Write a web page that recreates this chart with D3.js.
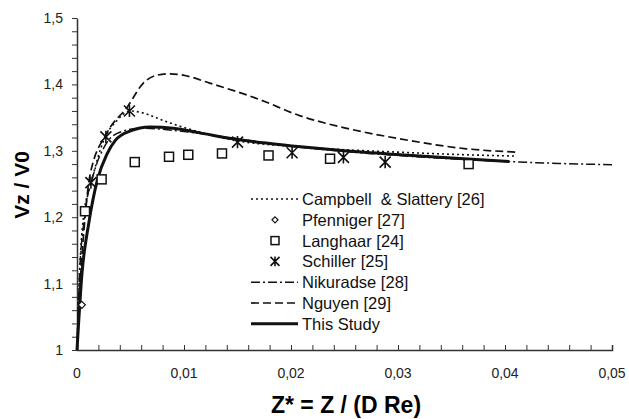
<!DOCTYPE html>
<html><head><meta charset="utf-8">
<script src="https://cdn.jsdelivr.net/npm/d3@7"></script>
<style>body{margin:0;background:#fff}svg{display:block}text{font-family:Arial,"Liberation Sans",sans-serif;white-space:pre}</style>
</head><body>
<script>
const W=629,H=419;
const xTicks=[0,0.01,0.02,0.03,0.04,0.05];
const yTicks=[1,1.1,1.2,1.3,1.4,1.5];
const thisStudy=[[0,1],[0.00047,1.116],[0.0011,1.191],[0.0019,1.256],[0.0028,1.295],[0.0036,1.316],[0.005,1.330],[0.0068,1.336],[0.009,1.334],[0.0115,1.327],[0.0146,1.318],[0.018,1.311],[0.0209,1.306],[0.025,1.300],[0.0302,1.294],[0.035,1.289],[0.0404,1.284]];
const campbell=[[0,1],[0.0002,1.1],[0.0006,1.2],[0.0013,1.25],[0.0025,1.316],[0.0037,1.345],[0.005,1.36],[0.0059,1.358],[0.0085,1.343],[0.0115,1.328],[0.0146,1.316],[0.0208,1.306],[0.030,1.298],[0.0364,1.294],[0.0411,1.292]];
const nguyen=[[0,1],[0.0003,1.1],[0.0007,1.19],[0.0012,1.262],[0.0028,1.327],[0.0047,1.366],[0.0062,1.402],[0.0075,1.414],[0.0087,1.416],[0.0099,1.414],[0.0124,1.402],[0.0171,1.377],[0.0208,1.353],[0.0249,1.335],[0.0302,1.318],[0.0364,1.303],[0.0411,1.298]];
const nikuradse=[[0,1],[0.0002,1.1],[0.0007,1.2],[0.0015,1.262],[0.0027,1.31],[0.004,1.328],[0.006,1.334],[0.01,1.329],[0.015,1.318],[0.02,1.307],[0.025,1.299],[0.03,1.293],[0.035,1.288],[0.04,1.284],[0.045,1.281],[0.05,1.279]];
const pfenniger=[[0.00045,1.068]];
const langhaar=[[0.00075,1.209],[0.0023,1.257],[0.0054,1.283],[0.0086,1.291],[0.0104,1.294],[0.01355,1.296],[0.0179,1.293],[0.02365,1.288],[0.0366,1.280]];
const schiller=[[0.0013,1.252],[0.0027,1.321],[0.0049,1.360],[0.0150,1.313],[0.0201,1.297],[0.0249,1.290],[0.0288,1.283]];
const legendLabels=["Campbell  & Slattery [26]","Pfenniger [27]","Langhaar [24]","Schiller [25]","Nikuradse [28]","Nguyen [29]","This Study"];

const svg=d3.select("body").append("svg").attr("width",W).attr("height",H);
const x=d3.scaleLinear().domain([0,0.05]).range([77,612]);
const y=d3.scaleLinear().domain([1,1.5]).range([350,18]);
const fmt=d=>String(+d.toFixed(2)).replace(".",",");

const ax=svg.append("g").attr("transform","translate(0,350)")
  .call(d3.axisBottom(x).tickValues(d3.range(0,0.0501,0.002)).tickSize(-5).tickFormat(""));
ax.select(".domain").attr("stroke","#333").attr("stroke-width",1.5);
ax.selectAll(".tick line").attr("stroke","#333");
svg.append("g").selectAll("text").data(xTicks).join("text")
  .attr("x",d=>x(d)).attr("y",378).attr("text-anchor","middle").attr("font-size",14).attr("fill","#222").text(fmt);
const ay=svg.append("g").attr("transform","translate(77,0)")
  .call(d3.axisLeft(y).tickValues(d3.range(1,1.5001,0.02)).tickSize(5).tickFormat("").tickSizeOuter(0));
ay.select(".domain").attr("stroke","#333").attr("stroke-width",1.5);
ay.selectAll(".tick line").attr("stroke","#333");
svg.append("g").selectAll("text").data(yTicks).join("text")
  .attr("x",63).attr("y",d=>y(d)+5).attr("text-anchor","end").attr("font-size",14).attr("fill","#222").text(fmt);

svg.append("text").attr("x",346).attr("y",413).attr("text-anchor","middle").attr("font-size",23).attr("font-weight","bold").text("Z* = Z / (D Re)");
svg.append("text").attr("transform","translate(29,185) rotate(-90)").attr("text-anchor","middle").attr("font-size",21).attr("font-weight","bold").text("Vz / V0");

const line=d3.line().x(d=>x(d[0])).y(d=>y(d[1])).curve(d3.curveMonotoneX);
const styles=[
 {data:campbell,w:1.6,dash:"2,3"},
 {data:nikuradse,w:1.5,dash:"9,3,2,3"},
 {data:nguyen,w:1.7,dash:"8,4"},
 {data:thisStudy,w:3,dash:null}
];
styles.forEach(s=>{
  svg.append("path").datum(s.data).attr("d",line).attr("fill","none").attr("stroke","#111")
   .attr("stroke-width",s.w).attr("stroke-dasharray",s.dash);
});

function square(g,cx,cy,s){g.append("rect").attr("x",cx-s/2).attr("y",cy-s/2).attr("width",s).attr("height",s).attr("fill","#fff").attr("stroke","#111").attr("stroke-width",1.5);}
function diamond(g,cx,cy,s){g.append("path").attr("d",`M${cx},${cy-s}L${cx+s},${cy}L${cx},${cy+s}L${cx-s},${cy}Z`).attr("fill","#fff").attr("stroke","#111").attr("stroke-width",1.2);}
function star(g,cx,cy,s){g.append("path").attr("d",`M${cx-s},${cy-s}L${cx+s},${cy+s}M${cx-s},${cy+s}L${cx+s},${cy-s}M${cx},${cy-s*1.1}L${cx},${cy+s*1.1}`).attr("fill","none").attr("stroke","#111").attr("stroke-width",1.6);}
const mg=svg.append("g");
langhaar.forEach(d=>square(mg,x(d[0]),y(d[1]),9));
pfenniger.forEach(d=>diamond(mg,x(d[0]),y(d[1]),3.5));
schiller.forEach(d=>star(mg,x(d[0]),y(d[1]),5.5));

const lg=svg.append("g");
const ly0=199,ldy=20.8;
legendLabels.forEach((t,i)=>{
  const yy=ly0+i*ldy;
  lg.append("text").attr("x",302).attr("y",yy+6).attr("font-size",16.5).attr("fill","#111").attr("xml:space","preserve").text(t);
});
const sampleLine=(i,w,dash)=>lg.append("line").attr("x1",251).attr("x2",298).attr("y1",ly0+i*ldy).attr("y2",ly0+i*ldy).attr("stroke","#111").attr("stroke-width",w).attr("stroke-dasharray",dash);
sampleLine(0,1.6,"2,3");
diamond(lg,275,ly0+ldy,3);
square(lg,275,ly0+2*ldy,8);
star(lg,275,ly0+3*ldy,4.5);
sampleLine(4,1.5,"9,3,2,3");
sampleLine(5,1.7,"8,4");
sampleLine(6,3,null);
</script>
</body></html>
